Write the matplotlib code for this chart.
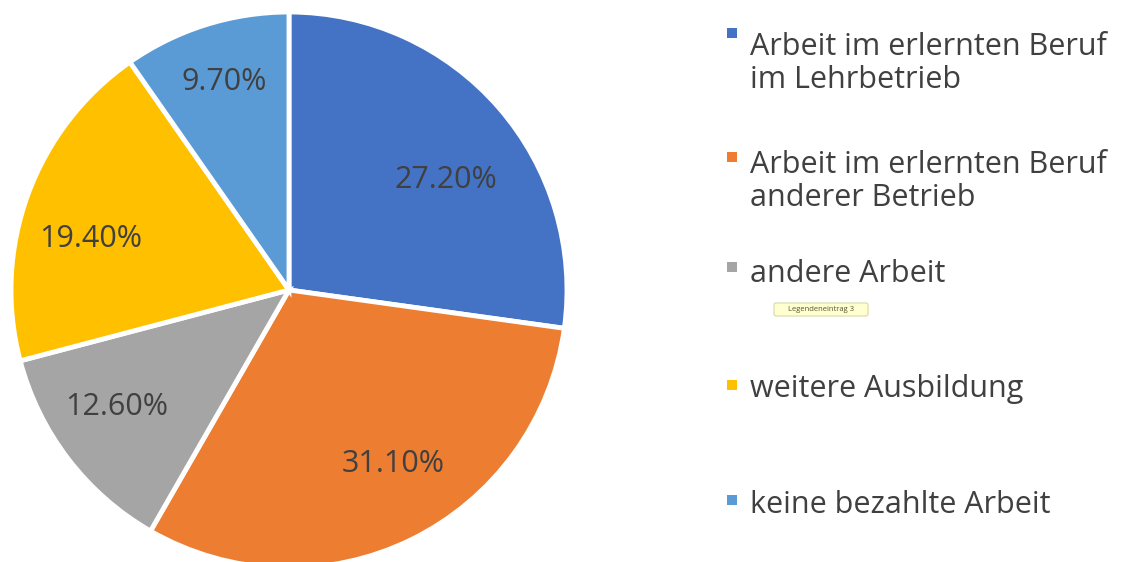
import matplotlib

matplotlib.use("Agg")
import matplotlib.pyplot as plt
from matplotlib.patches import Rectangle, FancyBboxPatch

# data
categories = [
    "Arbeit im erlernten Beruf\nim Lehrbetrieb",
    "Arbeit im erlernten Beruf\nanderer Betrieb",
    "andere Arbeit",
    "weitere Ausbildung",
    "keine bezahlte Arbeit",
]
shares = [27.2, 31.1, 12.6, 19.4, 9.7]
colors = ["#4472C4", "#ED7D31", "#A5A5A5", "#FFC000", "#5B9BD5"]

TEXT = "#404040"
W, H = 1122, 562
CX, CY, R = 289, 290, 278  # pie centre / radius in image pixels (y from top)

plt.rcParams["font.family"] = ["Open Sans", "DejaVu Sans"]

fig = plt.figure(figsize=(W / 100, H / 100), dpi=100, facecolor="white")
ax = fig.add_axes([0, 0, 1, 1])

wedges, texts, autotexts = ax.pie(
    shares,
    colors=colors,
    startangle=90,
    counterclock=False,
    center=(CX, H - CY),
    radius=R,
    autopct="%.2f%%",
    pctdistance=0.72,
    frame=True,
    wedgeprops=dict(edgecolor="white", linewidth=3.5),
    textprops=dict(color=TEXT, fontsize=22),
)
ax.set_xlim(0, W)
ax.set_ylim(0, H)
ax.set_aspect("equal")
ax.axis("off")

# label placement as on the slide (x centre, baseline y from top)
label_pos = [(446, 188), (393, 472), (117, 415), (91, 247), (224, 90)]
for t, (lx, ly) in zip(autotexts, label_pos):
    t.set_position((lx, H - ly))
    t.set_ha("center")
    t.set_va("baseline")

# hand-placed legend
legend_base = [55, 173, 282, 397, 513]
marker_top = [28, 152, 262, 380, 495]
for cat, col, y, my in zip(categories, colors, legend_base, marker_top):
    ax.add_patch(Rectangle((727, H - my - 10), 10, 10, facecolor=col, edgecolor="none"))
    for i, line in enumerate(cat.split("\n")):
        ax.text(750, H - y - i * 33, line, fontsize=22, color=TEXT, va="baseline", ha="left")

# tooltip left over from the screenshot
ax.add_patch(FancyBboxPatch((774, H - 316), 94, 13, boxstyle="round,pad=0,rounding_size=2",
                            facecolor="#FFFFD0", edgecolor="#D8D8A8", linewidth=0.8))
ax.text(821, H - 309.5, "Legendeneintrag 3", fontsize=5.5, color="#555533", ha="center", va="center")

fig.savefig("out.png", dpi=100, facecolor="white")
